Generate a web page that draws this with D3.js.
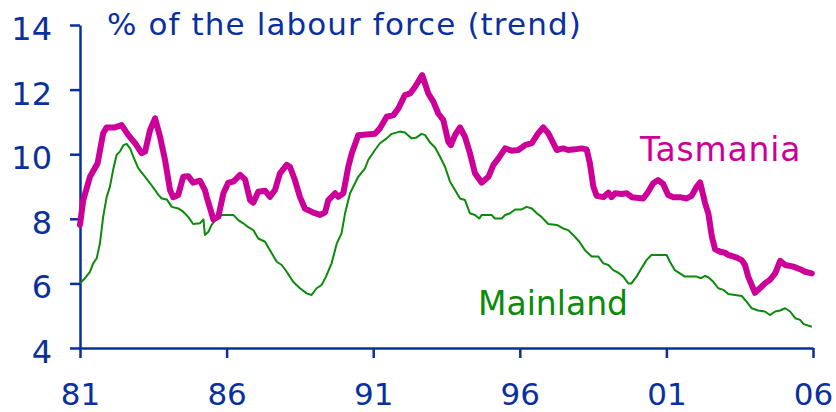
<!DOCTYPE html>
<html>
<head>
<meta charset="utf-8">
<script src="https://cdn.jsdelivr.net/npm/d3@7"></script>
<style>
  body { margin: 0; background: #fff; }
  svg { display: block; font-family: "DejaVu Sans", Verdana, sans-serif; }
</style>
</head>
<body>
<svg width="836" height="412"></svg>
<script>
// unemployment rate, % of the labour force (trend)
const tasYears = [1981.0, 1981.11, 1981.34, 1981.6, 1981.79, 1981.91, 1982.19, 1982.42, 1982.65, 1982.88,
  1983.1, 1983.22, 1983.39, 1983.56, 1983.73, 1983.9, 1984.07, 1984.18, 1984.35, 1984.52,
  1984.69, 1984.86, 1985.09, 1985.26, 1985.32, 1985.55, 1985.72, 1985.89, 1986.06, 1986.23,
  1986.46, 1986.63, 1986.8, 1986.91, 1987.08, 1987.31, 1987.48, 1987.65, 1987.82, 1988.05,
  1988.16, 1988.33, 1988.5, 1988.67, 1988.96, 1989.19, 1989.36, 1989.47, 1989.7, 1989.81,
  1989.98, 1990.15, 1990.27, 1990.49, 1991.06, 1991.23, 1991.46, 1991.69, 1991.86, 1992.08,
  1992.26, 1992.43, 1992.67, 1992.88, 1993.05, 1993.22, 1993.39, 1993.56, 1993.65, 1993.79,
  1993.96, 1994.13, 1994.3, 1994.47, 1994.7, 1994.93, 1995.1, 1995.27, 1995.5, 1995.72,
  1995.95, 1996.18, 1996.41, 1996.63, 1996.8, 1996.97, 1997.26, 1997.48, 1997.65, 1997.88,
  1998.11, 1998.28, 1998.39, 1998.51, 1998.62, 1998.85, 1999.02, 1999.13, 1999.25, 1999.48,
  1999.65, 1999.82, 2000.21, 2000.38, 2000.55, 2000.72, 2000.89, 2001.06, 2001.24, 2001.46,
  2001.69, 2001.86, 2002.03, 2002.15, 2002.32, 2002.43, 2002.55, 2002.66, 2002.83, 2003.0,
  2003.11, 2003.4, 2003.57, 2003.68, 2003.79, 2004.02, 2004.19, 2004.36, 2004.53, 2004.71,
  2004.88, 2005.05, 2005.33, 2005.56, 2005.73, 2005.96];
const tasValues = [7.81, 8.58, 9.3, 9.72, 10.65, 10.83, 10.83, 10.9, 10.59, 10.34,
  10.03, 10.08, 10.75, 11.11, 10.54, 9.82, 8.89, 8.67, 8.74, 9.3,
  9.32, 9.12, 9.18, 8.89, 8.68, 7.98, 8.07, 8.79, 9.12, 9.15,
  9.36, 9.22, 8.58, 8.5, 8.84, 8.87, 8.68, 8.89, 9.41, 9.67,
  9.61, 9.2, 8.68, 8.32, 8.19, 8.12, 8.2, 8.58, 8.79, 8.68,
  8.79, 9.61, 10.03, 10.59, 10.63, 10.8, 11.16, 11.21, 11.42, 11.83,
  11.88, 12.09, 12.45, 11.88, 11.63, 11.26, 11.06, 10.39, 10.28, 10.59,
  10.83, 10.54, 10.03, 9.41, 9.12, 9.3, 9.67, 9.87, 10.18, 10.11,
  10.13, 10.28, 10.34, 10.65, 10.83, 10.65, 10.13, 10.18, 10.13, 10.15,
  10.18, 10.15, 9.72, 8.99, 8.71, 8.67, 8.81, 8.67, 8.79, 8.77,
  8.79, 8.67, 8.63, 8.84, 9.1, 9.2, 9.08, 8.74, 8.67, 8.67,
  8.63, 8.71, 8.99, 9.13, 8.48, 8.17, 7.45, 7.06, 6.98, 6.95,
  6.88, 6.8, 6.72, 6.57, 6.21, 5.71, 5.85, 6.0, 6.11, 6.31,
  6.7, 6.57, 6.52, 6.44, 6.36, 6.31];

const mainYears = [1981.0, 1981.17, 1981.34, 1981.45, 1981.57, 1981.68, 1981.79, 1981.91, 1982.02, 1982.14,
  1982.25, 1982.36, 1982.48, 1982.59, 1982.71, 1982.82, 1982.99, 1983.22, 1983.39, 1983.56,
  1983.67, 1983.79, 1983.96, 1984.13, 1984.35, 1984.52, 1984.69, 1984.86, 1985.09, 1985.21,
  1985.26, 1985.38, 1985.49, 1985.66, 1985.83, 1986.23, 1986.4, 1986.57, 1986.74, 1986.91,
  1987.08, 1987.31, 1987.54, 1987.71, 1987.88, 1988.05, 1988.27, 1988.5, 1988.73, 1988.9,
  1989.07, 1989.24, 1989.39, 1989.58, 1989.76, 1989.92, 1990.04, 1990.21, 1990.38, 1990.49,
  1990.72, 1990.83, 1991.06, 1991.23, 1991.46, 1991.63, 1991.91, 1992.08, 1992.31, 1992.48,
  1992.65, 1992.77, 1992.94, 1993.11, 1993.28, 1993.45, 1993.62, 1993.79, 1993.96, 1994.13,
  1994.3, 1994.47, 1994.62, 1994.7, 1995.04, 1995.15, 1995.38, 1995.5, 1995.67, 1995.84,
  1996.06, 1996.23, 1996.41, 1996.58, 1996.74, 1996.97, 1997.26, 1997.48, 1997.65, 1997.82,
  1998.03, 1998.22, 1998.45, 1998.68, 1998.85, 1999.02, 1999.19, 1999.36, 1999.53, 1999.7,
  1999.81, 1999.98, 2000.15, 2000.32, 2000.49, 2001.01, 2001.12, 2001.29, 2001.46, 2001.63,
  2002.03, 2002.18, 2002.32, 2002.43, 2002.6, 2002.77, 2002.94, 2003.11, 2003.34, 2003.57,
  2003.74, 2003.91, 2004.13, 2004.36, 2004.53, 2004.71, 2004.88, 2005.05, 2005.22, 2005.4,
  2005.56, 2005.68, 2005.96];
const mainValues = [6.0, 6.16, 6.36, 6.62, 6.78, 7.24, 8.06, 8.68, 8.99, 9.56,
  9.98, 10.08, 10.28, 10.32, 10.18, 9.92, 9.56, 9.3, 9.1, 8.89,
  8.74, 8.63, 8.6, 8.37, 8.32, 8.22, 8.06, 7.84, 7.86, 7.98,
  7.5, 7.6, 7.81, 8.01, 8.12, 8.12, 7.96, 7.86, 7.74, 7.65,
  7.39, 7.29, 6.93, 6.67, 6.57, 6.36, 6.05, 5.85, 5.69, 5.64,
  5.85, 5.95, 6.21, 6.62, 7.24, 7.55, 8.17, 8.79, 9.1, 9.3,
  9.56, 9.82, 10.13, 10.34, 10.49, 10.63, 10.7, 10.67, 10.49, 10.52,
  10.63, 10.59, 10.36, 10.21, 9.92, 9.61, 9.15, 8.89, 8.63, 8.58,
  8.17, 8.12, 8.01, 8.12, 8.12, 8.01, 8.01, 8.12, 8.17, 8.29,
  8.29, 8.37, 8.32, 8.17, 8.06, 7.84, 7.81, 7.7, 7.65, 7.5,
  7.29, 7.03, 6.83, 6.83, 6.62, 6.57, 6.41, 6.33, 6.21, 6.0,
  6.0, 6.21, 6.47, 6.72, 6.88, 6.88, 6.67, 6.41, 6.31, 6.21,
  6.21, 6.16, 6.23, 6.19, 6.05, 5.85, 5.8, 5.67, 5.64, 5.61,
  5.43, 5.23, 5.16, 5.13, 5.02, 5.13, 5.16, 5.23, 5.13, 4.92,
  4.87, 4.74, 4.66];

const xTickYears = [1981, 1986, 1991, 1996, 2001, 2006];
const xTickLabels = ["81", "86", "91", "96", "01", "06"];
const yTicks = [4, 6, 8, 10, 12, 14];

const blue = "#0a2f9e";
const magenta = "#cc0099";
const green = "#0b8a0b";

const svg = d3.select("svg");

const x = d3.scaleLinear().domain([1981, 2006]).range([80, 813]);
const y = d3.scaleLinear().domain([4, 14]).range([348, 25]);

const tas = tasYears.map((t, i) => ({ t: t, v: tasValues[i] }));
const main = mainYears.map((t, i) => ({ t: t, v: mainValues[i] }));

const line = d3.line()
  .x(d => x(d.t))
  .y(d => y(d.v));

// axes
const yAxis = svg.append("g")
  .attr("transform", "translate(80,0)")
  .call(d3.axisLeft(y).tickValues(yTicks).tickSize(10).tickSizeOuter(0).tickPadding(18));

const xAxis = svg.append("g")
  .attr("transform", "translate(0,348)")
  .call(d3.axisBottom(x).tickValues(xTickYears).tickSize(10).tickSizeOuter(0)
    .tickFormat((d, i) => xTickLabels[i]));

[yAxis, xAxis].forEach(g => {
  g.selectAll("path, line").attr("stroke", blue).attr("stroke-width", 2.5);
  g.selectAll("text")
    .attr("fill", blue)
    .style("font-family", "'DejaVu Sans', Verdana, sans-serif")
    .style("font-size", "32px");
});
yAxis.selectAll("text").attr("dy", "0.45em");
// x labels sit close to the bottom edge, as in the original
xAxis.selectAll("text").attr("y", 57).attr("dy", null).style("font-size", "31px");

// series
svg.append("path")
  .datum(main)
  .attr("fill", "none")
  .attr("stroke", green)
  .attr("stroke-width", 2)
  .attr("stroke-linejoin", "round")
  .attr("d", line);

svg.append("path")
  .datum(tas)
  .attr("fill", "none")
  .attr("stroke", magenta)
  .attr("stroke-width", 6)
  .attr("stroke-linejoin", "round")
  .attr("stroke-linecap", "round")
  .attr("d", line);

// labels
svg.append("text")
  .attr("x", 107)
  .attr("y", 35)
  .attr("fill", blue)
  .style("font-size", "31px")
  .style("letter-spacing", "1.1px")
  .text("% of the labour force (trend)");

svg.append("text")
  .attr("x", 640)
  .attr("y", 161)
  .attr("fill", magenta)
  .style("font-size", "33px")
  .style("letter-spacing", "0.8px")
  .text("Tasmania");

svg.append("text")
  .attr("x", 478)
  .attr("y", 315)
  .attr("fill", green)
  .style("font-size", "33px")
  .text("Mainland");
</script>
</body>
</html>
